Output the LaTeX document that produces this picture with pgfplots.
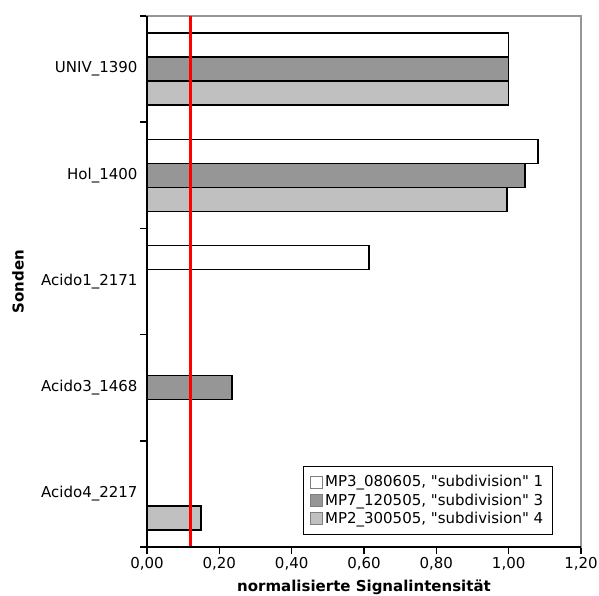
\documentclass[border=0pt]{standalone}
\usepackage{pgfplots}
\pgfplotsset{compat=1.18}
\usepackage{fontspec}
\setmainfont{DejaVu Sans}
\definecolor{darkbar}{RGB}{150,150,150}
\definecolor{lightbar}{RGB}{192,192,192}
\definecolor{frame}{RGB}{150,150,150}
\begin{document}
\begin{tikzpicture}[font=\fontsize{15}{18}\selectfont]
\begin{axis}[name=ax, scale only axis, width=434pt, height=531pt,
  xmin=0, xmax=1.2, ymin=-0.5, ymax=4.5, y dir=reverse,
  axis line style={frame, line width=1.5pt},
  tick align=outside, xtick pos=bottom, ytick pos=left,
  major tick length=7pt,
  tick style={black, line width=1.5pt},
  tick label style={font=\fontsize{15}{18}\selectfont},
  xtick={0,0.2,0.4,0.6,0.8,1.0,1.2},
  xticklabel={\pgfmathprintnumber[fixed,fixed zerofill,precision=2,use comma,assume math mode=true]{\tick}},
  ytick={-0.5,0.5,1.5,2.5,3.5,4.5},
  yticklabels={,,,,,},
  extra y ticks={0,1,2,3,4},
  extra y tick labels={UNIV\_1390, Hol\_1400, Acido1\_2171, Acido3\_1468, Acido4\_2217},
  extra y tick style={major tick length=0pt},
  yticklabel style={xshift=-6pt},
  legend style={at={(0.9355,0.0226)}, anchor=south east, draw=black, line width=1.5pt,
    font=\fontsize{15}{18}\selectfont, legend cell align=left, inner xsep=7pt, inner ysep=7pt,
    row sep=1.5pt},
  legend image code/.code={\draw[#1, draw=gray, line width=0.8pt] (0pt,-6pt) rectangle (12pt,6pt);},
  clip=false,
]
\addplot[xbar, bar width=0.226, bar shift=-0.226, fill=white, draw=black, line width=1.5pt]
  coordinates {(1.00,0) (1.081,1) (0.614,2)};
\addlegendentry{MP3\_080605, \textquotedbl subdivision\textquotedbl\ 1}
\addplot[xbar, bar width=0.226, bar shift=0, fill=darkbar, draw=black, line width=1.5pt]
  coordinates {(1.00,0) (1.045,1) (0.235,3)};
\addlegendentry{MP7\_120505, \textquotedbl subdivision\textquotedbl\ 3}
\addplot[xbar, bar width=0.226, bar shift=0.226, fill=lightbar, draw=black, line width=1.5pt]
  coordinates {(1.00,0) (0.995,1) (0.149,4)};
\addlegendentry{MP2\_300505, \textquotedbl subdivision\textquotedbl\ 4}
\addplot[color={rgb,255:red,255;green,0;blue,0}, line width=3pt, forget plot] coordinates {(0.12,-0.5) (0.12,4.5)};
\end{axis}
\draw[black, line width=1.5pt] (ax.north west) -- (ax.south west) -- (ax.south east);
\node[font=\fontsize{15}{18}\selectfont\bfseries, anchor=north] at ([yshift=-29pt]ax.south) {normalisierte Signalintensität};
\node[font=\fontsize{15}{18}\selectfont\bfseries, rotate=90] at ([xshift=-129pt]ax.west) {Sonden};
\pgfresetboundingbox
\path ([shift={(-147pt,-48pt)}]ax.south west) rectangle ([shift={(18pt,16pt)}]ax.north east);
\end{tikzpicture}
\end{document}
